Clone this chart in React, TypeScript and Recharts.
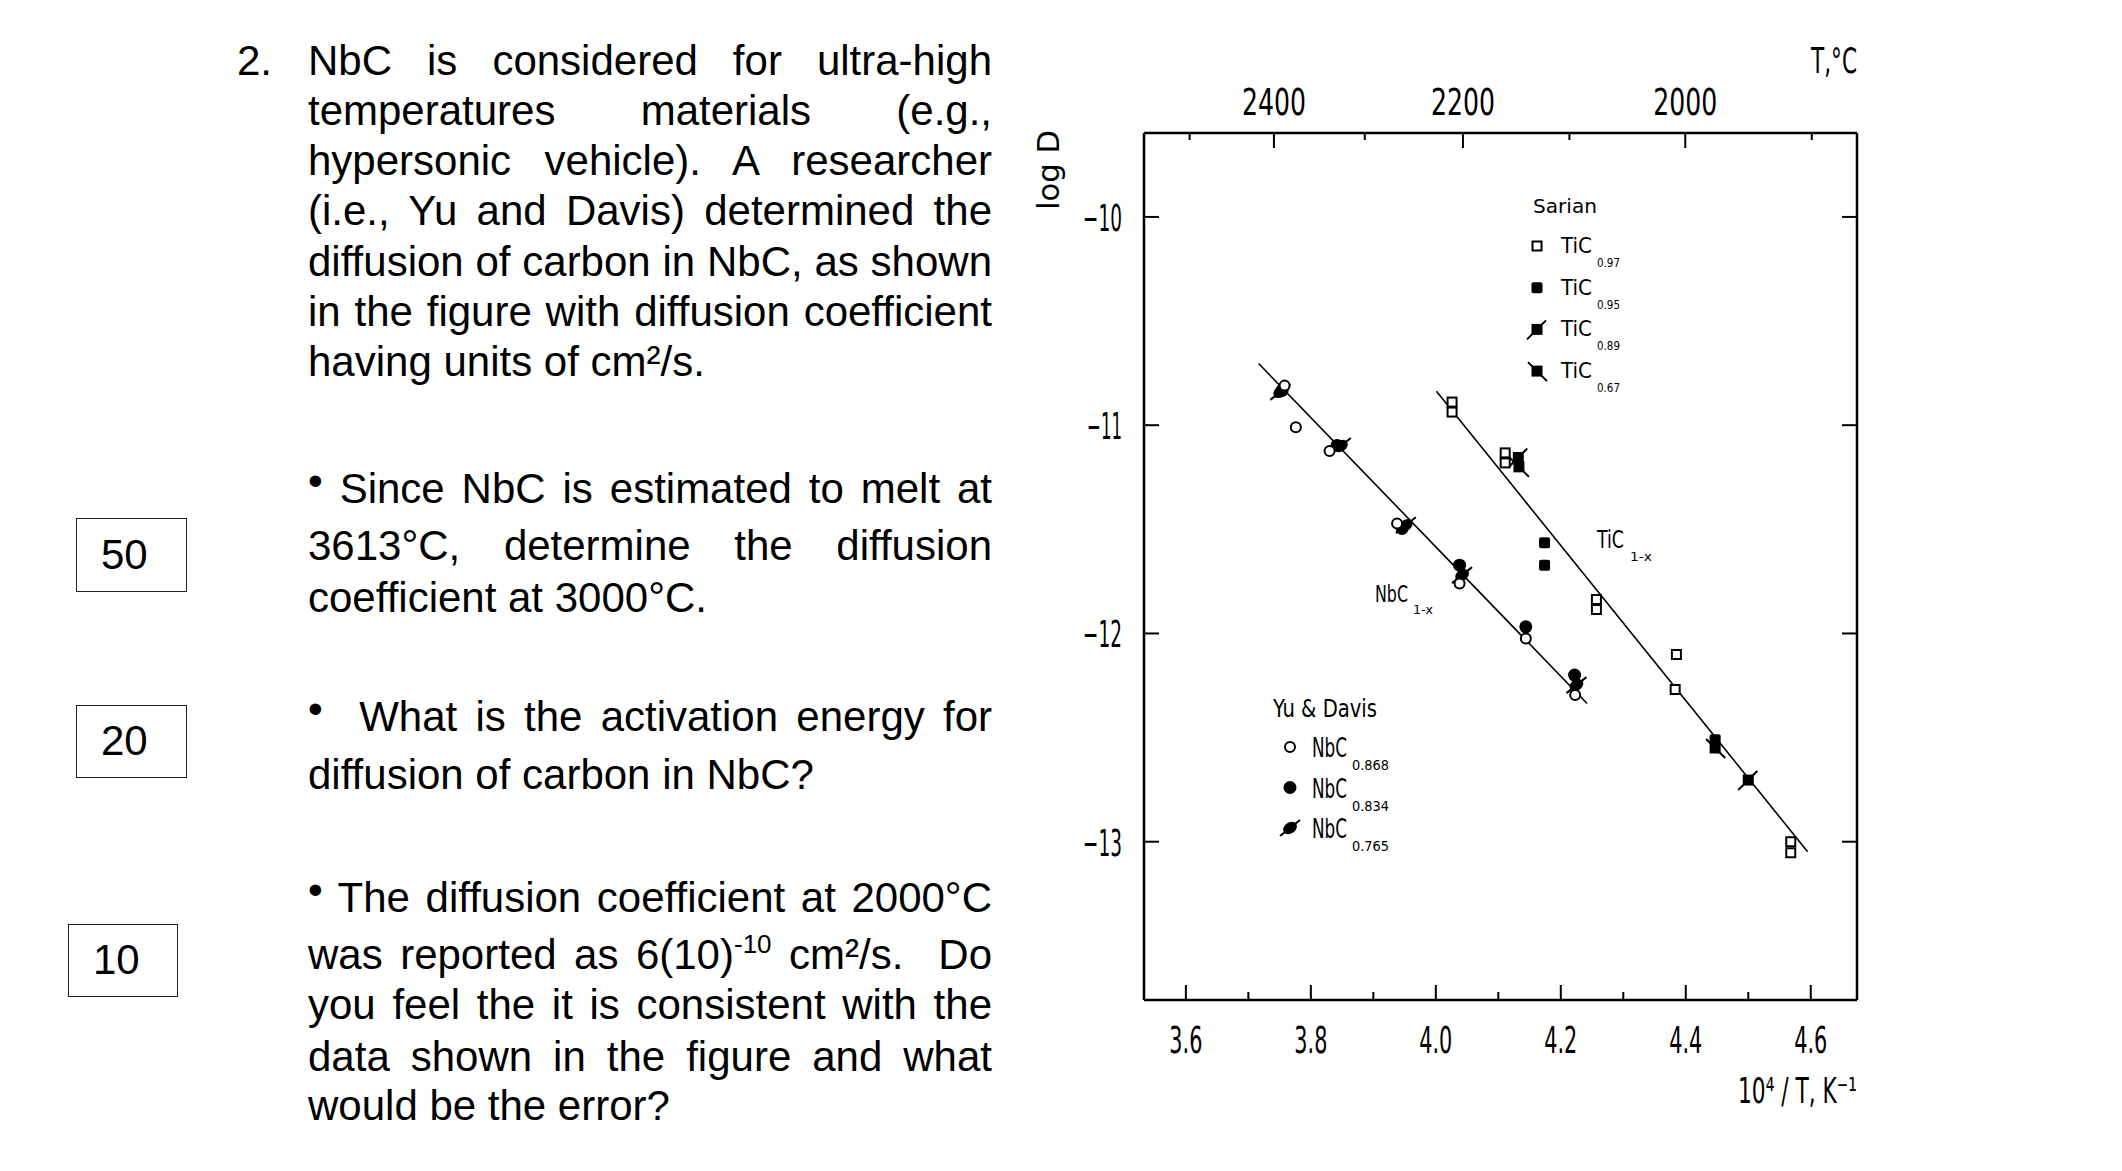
import React from "react";
import { Legend, ReferenceLine, Scatter, ScatterChart, XAxis, YAxis } from "recharts";

// x = 10^4/T (K^-1), y = log D

// Yu & Davis — NbC
const nbc0868 = [
  { x: 3.758, y: -10.81 },
  { x: 3.776, y: -11.01 },
  { x: 3.83, y: -11.124 },
  { x: 3.938, y: -11.472 },
  { x: 4.038, y: -11.76 },
  { x: 4.144, y: -12.024 },
  { x: 4.223, y: -12.296 },
];
const nbc0834 = [
  { x: 3.754, y: -10.833 },
  { x: 3.842, y: -11.097 },
  { x: 3.946, y: -11.496 },
  { x: 4.038, y: -11.672 },
  { x: 4.144, y: -11.968 },
  { x: 4.222, y: -12.2 },
];
const nbc0765 = [
  { x: 3.751, y: -10.84 },
  { x: 3.848, y: -11.1 },
  { x: 3.952, y: -11.48 },
  { x: 4.042, y: -11.72 },
  { x: 4.225, y: -12.248 },
];

// Sarian — TiC
const tic097 = [
  { x: 4.026, y: -10.889 },
  { x: 4.026, y: -10.937 },
  { x: 4.111, y: -11.133 },
  { x: 4.111, y: -11.181 },
  { x: 4.257, y: -11.837 },
  { x: 4.257, y: -11.885 },
  { x: 4.385, y: -12.101 },
  { x: 4.383, y: -12.269 },
  { x: 4.568, y: -13.0 },
  { x: 4.568, y: -13.053 },
];
const tic095 = [
  { x: 4.174, y: -11.565 },
  { x: 4.174, y: -11.672 },
  { x: 4.447, y: -12.51 },
];
const tic089 = [
  { x: 4.132, y: -11.155 },
  { x: 4.5, y: -12.704 },
];
const tic067 = [
  { x: 4.133, y: -11.2 },
  { x: 4.447, y: -12.55 },
];

const nbcFit = [
  { x: 3.7165, y: -10.704 },
  { x: 4.242, y: -12.336 },
];
const ticFit = [
  { x: 4.001, y: -10.837 },
  { x: 4.595, y: -13.048 },
];

const bottomTicks = [3.6, 3.7, 3.8, 3.9, 4.0, 4.1, 4.2, 4.3, 4.4, 4.5, 4.6];
const bottomMajor = ["3.6", "3.8", "4.0", "4.2", "4.4", "4.6"];
const topTemps = [2500, 2400, 2300, 2200, 2100, 2000, 1900];
const topMajor = [2400, 2200, 2000];
const yTicks = [-10, -11, -12, -13];

const X_DOMAIN: [number, number] = [3.533, 4.674];
const Y_DOMAIN: [number, number] = [-13.76, -9.597];

const CF = "'DejaVu Sans Condensed','DejaVu Sans',sans-serif";
const TF = "'Liberation Sans', Arial, Helvetica, sans-serif";

// ---- marker shapes ----
const openCircle = (cx: number, cy: number) => (
  <circle cx={cx} cy={cy} r={5} fill="#fff" stroke="#000" strokeWidth={2} />
);
const filledCircle = (cx: number, cy: number) => <circle cx={cx} cy={cy} r={6.5} fill="#000" />;
const flagCircle = (cx: number, cy: number) => (
  <g>
    <ellipse cx={cx} cy={cy} rx={7.5} ry={5.5} fill="#000" transform={`rotate(-35 ${cx} ${cy})`} />
    <line x1={cx - 10} y1={cy + 8} x2={cx + 10} y2={cy - 8} stroke="#000" strokeWidth={2} />
  </g>
);
const openSquare = (cx: number, cy: number) => (
  <rect x={cx - 4.5} y={cy - 4.5} width={9} height={9} fill="#fff" stroke="#000" strokeWidth={2} />
);
const filledSquare = (cx: number, cy: number) => (
  <rect x={cx - 5.5} y={cy - 5.5} width={11} height={11} rx={2} fill="#000" />
);
const slashSquare = (cx: number, cy: number) => (
  <g>
    <rect x={cx - 5.5} y={cy - 5.5} width={11} height={11} fill="#000" />
    <line x1={cx - 10} y1={cy + 10} x2={cx + 9} y2={cy - 9} stroke="#000" strokeWidth={2} />
  </g>
);
const backslashSquare = (cx: number, cy: number) => (
  <g>
    <rect x={cx - 5.5} y={cy - 5.5} width={11} height={11} fill="#000" />
    <line x1={cx - 9} y1={cy - 9} x2={cx + 10} y2={cy + 10} stroke="#000" strokeWidth={2} />
  </g>
);

const shapeOf: Record<string, (cx: number, cy: number) => React.ReactElement> = {
  "NbC 0.868": openCircle,
  "NbC 0.834": filledCircle,
  "NbC 0.765": flagCircle,
  "TiC 0.97": openSquare,
  "TiC 0.95": filledSquare,
  "TiC 0.89": slashSquare,
  "TiC 0.67": backslashSquare,
};
const mk = (name: string) => (p: any) => shapeOf[name](p.cx, p.cy);

// ---- axis ticks (inward) ----
const BottomTick = (p: any) => {
  const v = Number(p.payload.value).toFixed(1);
  const major = bottomMajor.includes(v);
  return (
    <g>
      <line x1={p.x} x2={p.x} y1={p.y} y2={p.y - (major ? 15 : 8)} stroke="#000" strokeWidth={2} />
      {major && (
        <text x={p.x} y={p.y + 53} textAnchor="middle" fontFamily={CF} fontSize={37} textLength={33} lengthAdjust="spacingAndGlyphs" fill="#000">
          {v}
        </text>
      )}
    </g>
  );
};
const TopTick = (p: any) => {
  const t = Math.round(1e4 / Number(p.payload.value) - 273.15);
  const major = topMajor.includes(t);
  return (
    <g>
      <line x1={p.x} x2={p.x} y1={p.y} y2={p.y + (major ? 15 : 7)} stroke="#000" strokeWidth={2} />
      {major && (
        <text x={p.x} y={p.y - 18} textAnchor="middle" fontFamily={CF} fontSize={37} textLength={64} lengthAdjust="spacingAndGlyphs" fill="#000">
          {t}
        </text>
      )}
    </g>
  );
};
const LeftTick = (p: any) => {
  const v = Number(p.payload.value);
  return (
    <g>
      <line x1={p.x} x2={p.x + 15} y1={p.y} y2={p.y} stroke="#000" strokeWidth={2} />
      <text x={p.x - 22} y={p.y + 14} textAnchor="end" fontFamily={CF} fontSize={37} textLength={v === -11 ? 35 : 39} lengthAdjust="spacingAndGlyphs" fill="#000">
        {String(v).replace("-", "\u2212")}
      </text>
    </g>
  );
};
const RightTick = (p: any) => (
  <line x1={p.x} x2={p.x - 15} y1={p.y} y2={p.y} stroke="#000" strokeWidth={2} />
);

// ---- legend (two keyed blocks inside the plot) ----
const LegendBlocks = (props: any) => {
  const names: string[] = (props.payload || []).map((e: any) => String(e.value));
  const tic = names.filter((n) => n.startsWith("TiC"));
  const nbc = names.filter((n) => n.startsWith("NbC"));
  return (
    <svg width={2122} height={1171} style={{ position: "absolute", left: 0, top: 0 }}>
      <text x={1533} y={213} fontFamily={CF} fontSize={20} textLength={64} lengthAdjust="spacingAndGlyphs">Sarian</text>
      {tic.map((n, i) => {
        const dy = i * 41.7;
        return (
          <g key={n}>
            {shapeOf[n](1537, 246 + dy)}
            <text x={1561} y={253 + dy} fontFamily={CF} fontSize={22} textLength={31} lengthAdjust="spacingAndGlyphs">TiC</text>
            <text x={1597} y={267 + dy} fontFamily={CF} fontSize={13} textLength={23} lengthAdjust="spacingAndGlyphs">{n.split(" ")[1]}</text>
          </g>
        );
      })}
      <text x={1273} y={717} fontFamily={CF} fontSize={24} textLength={104} lengthAdjust="spacingAndGlyphs">Yu &amp; Davis</text>
      {nbc.map((n, i) => {
        const dy = i * 40.5;
        return (
          <g key={n}>
            {shapeOf[n](1290, 747 + dy)}
            <text x={1312} y={757 + dy} fontFamily={CF} fontSize={26} textLength={35} lengthAdjust="spacingAndGlyphs">NbC</text>
            <text x={1352} y={770 + dy} fontFamily={CF} fontSize={14} textLength={37} lengthAdjust="spacingAndGlyphs">{n.split(" ")[1]}</text>
          </g>
        );
      })}
    </svg>
  );
};

// ---- question text on the left ----
const Bullet = () => (
  <span style={{ position: "relative", top: -8, fontSize: 42 }}>•</span>
);
const textLines: { cy: number; j: boolean; c: React.ReactNode }[] = [
  { cy: 61, j: true, c: "NbC is considered for ultra-high" },
  { cy: 111, j: true, c: "temperatures materials (e.g.," },
  { cy: 160.5, j: true, c: "hypersonic vehicle).  A researcher" },
  { cy: 211, j: true, c: "(i.e., Yu and Davis) determined the" },
  { cy: 262, j: true, c: "diffusion of carbon in NbC, as shown" },
  { cy: 312, j: true, c: "in the figure with diffusion coefficient" },
  { cy: 362, j: false, c: "having units of cm\u00b2/s." },
  { cy: 489, j: true, c: <><Bullet /> Since NbC is estimated to melt at</> },
  { cy: 546, j: true, c: "3613°C, determine the diffusion" },
  { cy: 598, j: false, c: "coefficient at 3000°C." },
  { cy: 717, j: true, c: <><Bullet />&nbsp; What is the activation energy for</> },
  { cy: 775, j: false, c: "diffusion of carbon in NbC?" },
  { cy: 897.5, j: true, c: <><Bullet /> The diffusion coefficient at 2000°C</> },
  {
    cy: 955,
    j: true,
    c: (
      <>
        was reported as 6(10)
        <span style={{ fontSize: 26, position: "relative", top: -16 }}>-10</span> cm²/s.&nbsp; Do
      </>
    ),
  },
  { cy: 1005, j: true, c: "you feel the it is consistent with the" },
  { cy: 1057, j: true, c: "data shown in the figure and what" },
  { cy: 1106, j: false, c: "would be the error?" },
];
const scoreBoxes = [
  { label: "50", left: 76, top: 518, w: 111, h: 74 },
  { label: "20", left: 76, top: 705, w: 111, h: 73 },
  { label: "10", left: 68, top: 924, w: 110, h: 73 },
];

export default function App() {
  const allSeries = [
    { name: "TiC 0.97", data: tic097 },
    { name: "TiC 0.95", data: tic095 },
    { name: "TiC 0.89", data: tic089 },
    { name: "TiC 0.67", data: tic067 },
    { name: "NbC 0.868", data: nbc0868 },
    { name: "NbC 0.834", data: nbc0834 },
    { name: "NbC 0.765", data: nbc0765 },
  ];
  // draw filled marks first so open ones sit on top
  const drawOrder = ["NbC 0.834", "NbC 0.765", "TiC 0.95", "TiC 0.89", "TiC 0.67", "NbC 0.868", "TiC 0.97"];
  const ordered = drawOrder.map((n) => allSeries.find((s) => s.name === n)!);

  return (
    <div style={{ position: "absolute", left: 0, top: 0, width: 2122, height: 1171, background: "#fff", overflow: "hidden" }}>
      <div style={{ position: "absolute", left: 0, top: 0 }}>
        <ScatterChart width={2122} height={1171} margin={{ top: 73, right: 245, bottom: 111, left: 1064 }}>
          <XAxis
            type="number"
            dataKey="x"
            domain={X_DOMAIN}
            allowDataOverflow
            ticks={bottomTicks}
            interval={0}
            tick={BottomTick}
            tickLine={false}
            tickSize={0}
            tickMargin={0}
            height={60}
            axisLine={{ stroke: "#000", strokeWidth: 2.5 }}
          />
          <XAxis
            xAxisId="top"
            orientation="top"
            type="number"
            dataKey="x"
            domain={X_DOMAIN}
            allowDataOverflow
            ticks={topTemps.map((t) => 1e4 / (t + 273.15))}
            interval={0}
            tick={TopTick}
            tickLine={false}
            tickSize={0}
            tickMargin={0}
            height={60}
            axisLine={{ stroke: "#000", strokeWidth: 2.5 }}
          />
          <YAxis
            type="number"
            dataKey="y"
            domain={Y_DOMAIN}
            allowDataOverflow
            ticks={yTicks}
            interval={0}
            tick={LeftTick}
            tickLine={false}
            tickSize={0}
            tickMargin={0}
            width={80}
            axisLine={{ stroke: "#000", strokeWidth: 2.5 }}
          />
          <YAxis
            yAxisId="right"
            orientation="right"
            type="number"
            dataKey="y"
            domain={Y_DOMAIN}
            allowDataOverflow
            ticks={yTicks}
            interval={0}
            tick={RightTick}
            tickLine={false}
            tickSize={0}
            tickMargin={0}
            width={20}
            axisLine={{ stroke: "#000", strokeWidth: 2.5 }}
          />
          <ReferenceLine segment={nbcFit} stroke="#000" strokeWidth={1.6} ifOverflow="visible" />
          <ReferenceLine segment={ticFit} stroke="#000" strokeWidth={1.6} ifOverflow="visible" />
          {ordered.map((s) => (
            <Scatter key={s.name} name={s.name} data={s.data} shape={mk(s.name)} isAnimationActive={false} />
          ))}
          <Legend
            layout="horizontal"
            verticalAlign="middle"
            align="center"
            content={(p: any) => {
              const sorted = { ...p, payload: allSeries.map((s) => (p.payload || []).find((e: any) => e.value === s.name)).filter(Boolean) };
              return <LegendBlocks {...sorted} />;
            }}
            wrapperStyle={{ position: "absolute", left: 0, top: 0, width: 2122, height: 1171, pointerEvents: "none" }}
          />
        </ScatterChart>
      </div>

      {/* axis titles and line labels */}
      <svg width={2122} height={1171} style={{ position: "absolute", left: 0, top: 0, pointerEvents: "none" }}>
        <text x={1811} y={73} fontFamily={CF} fontSize={35} textLength={46} lengthAdjust="spacingAndGlyphs">T,°C</text>
        <text x={1059} y={210} fontFamily={CF} fontSize={30} textLength={80} lengthAdjust="spacingAndGlyphs" transform="rotate(-90 1059 210)">log D</text>
        <text x={1738} y={1103} fontFamily={CF} fontSize={36} textLength={119} lengthAdjust="spacingAndGlyphs">10⁴ / T, K⁻¹</text>
        <text x={1375} y={602} fontFamily={CF} fontSize={23} textLength={33} lengthAdjust="spacingAndGlyphs">NbC</text>
        <text x={1413} y={614} fontFamily={CF} fontSize={13} textLength={20} lengthAdjust="spacingAndGlyphs">1-x</text>
        <text x={1597} y={548} fontFamily={CF} fontSize={24} textLength={27} lengthAdjust="spacingAndGlyphs">TiC</text>
        <text x={1630} y={561} fontFamily={CF} fontSize={13} textLength={22} lengthAdjust="spacingAndGlyphs">1-x</text>
      </svg>

      {/* question text */}
      <div style={{ position: "absolute", left: 237, top: 36, fontFamily: TF, fontSize: 42, lineHeight: "50px", color: "#000" }}>2.</div>
      {textLines.map((l, i) => (
        <div
          key={i}
          style={{
            position: "absolute",
            left: 308,
            top: l.cy - 25,
            width: 684,
            fontFamily: TF,
            fontSize: 42,
            lineHeight: "50px",
            color: "#000",
            textAlign: l.j ? "justify" : "left",
            textAlignLast: l.j ? "justify" : "left",
          }}
        >
          {l.c}
        </div>
      ))}
      {scoreBoxes.map((b) => (
        <div
          key={b.label}
          style={{
            position: "absolute",
            left: b.left,
            top: b.top,
            width: b.w,
            height: b.h,
            boxSizing: "border-box",
            border: "1.5px solid #222",
            fontFamily: TF,
            fontSize: 42,
            lineHeight: `${b.h - 3}px`,
            paddingLeft: 24,
            color: "#000",
          }}
        >
          {b.label}
        </div>
      ))}
    </div>
  );
}
